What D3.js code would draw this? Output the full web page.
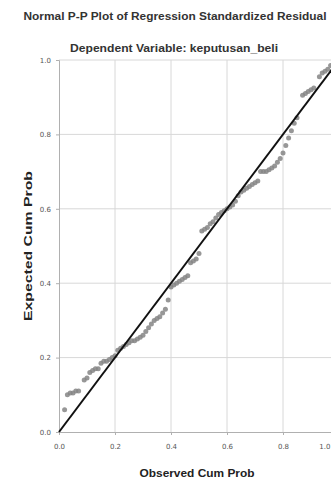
<!DOCTYPE html>
<html><head><meta charset="utf-8">
<script src="https://cdn.jsdelivr.net/npm/d3@7"></script>
<style>body{margin:0;background:#fff;}svg{display:block;}</style>
</head><body>
<svg id="c" width="331" height="482"></svg>
<script>
const observed = [0.02,0.03,0.04,0.05,0.06,0.07,0.09,0.10,0.11,0.12,0.13,0.14,0.15,0.16,0.17,0.18,0.19,0.20,0.21,0.22,0.23,0.24,0.25,0.26,0.27,0.28,0.29,0.30,0.31,0.32,0.33,0.34,0.35,0.36,0.37,0.38,0.39,0.40,0.41,0.42,0.43,0.44,0.45,0.46,0.47,0.48,0.49,0.50,0.51,0.52,0.53,0.54,0.55,0.56,0.57,0.58,0.59,0.60,0.61,0.62,0.63,0.64,0.65,0.66,0.67,0.68,0.69,0.70,0.71,0.72,0.73,0.74,0.75,0.76,0.77,0.78,0.79,0.80,0.81,0.82,0.83,0.84,0.85,0.87,0.88,0.89,0.90,0.91,0.93,0.94,0.95,0.96,0.97];
const expected = [0.06,0.10,0.105,0.105,0.11,0.11,0.14,0.145,0.16,0.165,0.17,0.17,0.185,0.19,0.19,0.195,0.20,0.205,0.22,0.225,0.23,0.235,0.24,0.245,0.245,0.25,0.255,0.26,0.27,0.28,0.29,0.30,0.305,0.31,0.32,0.33,0.355,0.39,0.395,0.40,0.405,0.41,0.415,0.42,0.455,0.46,0.465,0.48,0.54,0.545,0.55,0.56,0.565,0.575,0.585,0.59,0.595,0.60,0.605,0.61,0.62,0.635,0.645,0.65,0.655,0.66,0.665,0.67,0.675,0.70,0.70,0.70,0.705,0.71,0.715,0.725,0.735,0.75,0.77,0.79,0.81,0.83,0.845,0.905,0.91,0.915,0.92,0.925,0.955,0.965,0.97,0.975,0.985];
const tickValues = [0.0,0.2,0.4,0.6,0.8,1.0];
const tickLabels = ["0.0","0.2","0.4","0.6","0.8","1.0"];
const titleText = "Normal P-P Plot of Regression Standardized Residual";
const subtitleText = "Dependent Variable: keputusan_beli";
const xLabel = "Observed Cum Prob";
const yLabel = "Expected Cum Prob";

const svg = d3.select("#c");
const x = d3.scaleLinear().domain([0,1]).range([59,339]);
const y = d3.scaleLinear().domain([0,1]).range([432,60]);

// gridlines
svg.append("g").selectAll("line.v").data(tickValues.slice(1)).join("line")
  .attr("x1",d=>x(d)).attr("x2",d=>x(d)).attr("y1",y(1)).attr("y2",y(0))
  .attr("stroke","#d8d8d8").attr("stroke-width",1);
svg.append("g").selectAll("line.h").data(tickValues.slice(1)).join("line")
  .attr("x1",x(0)).attr("x2",331).attr("y1",d=>y(d)).attr("y2",d=>y(d))
  .attr("stroke","#d8d8d8").attr("stroke-width",1);

// axes
const xAxis = d3.axisBottom(x).tickValues(tickValues).tickFormat((d,i)=>tickLabels[i]).tickSize(3).tickPadding(9);
const yAxis = d3.axisLeft(y).tickValues(tickValues).tickFormat((d,i)=>tickLabels[i]).tickSize(3).tickPadding(5);
const gx = svg.append("g").attr("transform","translate(0,432)").call(xAxis);
const gy = svg.append("g").attr("transform","translate(59,0)").call(yAxis);
[gx,gy].forEach(g=>{
  g.select(".domain").attr("stroke","#b0b0b0");
  g.selectAll(".tick line").attr("stroke","#b0b0b0");
  g.selectAll(".tick text").attr("fill","#555").attr("font-size","7px").attr("font-family","Liberation Sans Narrow, DejaVu Sans");
});
// keep the last x tick label inside the window
gx.selectAll(".tick text").filter(d=>x(d)>325).attr("text-anchor","end").attr("x",331-x(1)-1);

// points
svg.append("g").selectAll("circle").data(observed.map((o,i)=>[o,expected[i]])).join("circle")
  .attr("cx",d=>x(d[0])).attr("cy",d=>y(d[1])).attr("r",2.5)
  .attr("fill","#858585").attr("fill-opacity",0.85);

// reference line
svg.append("line").attr("x1",x(0)).attr("y1",y(0)).attr("x2",x(1)).attr("y2",y(1))
  .attr("stroke","#111").attr("stroke-width",2);

// texts
const font = "Liberation Sans Narrow, Liberation Sans, sans-serif";
svg.append("text").attr("x",175).attr("y",20).attr("text-anchor","middle")
  .attr("font-family",font).attr("font-size","11px").attr("font-weight","bold").attr("fill","#333")
  .attr("textLength",303).attr("lengthAdjust","spacingAndGlyphs").text(titleText);
svg.append("text").attr("x",174).attr("y",52).attr("text-anchor","middle")
  .attr("font-family",font).attr("font-size","11px").attr("font-weight","bold").attr("fill","#333")
  .attr("textLength",208).attr("lengthAdjust","spacingAndGlyphs").text(subtitleText);
svg.append("text").attr("x",197).attr("y",477).attr("text-anchor","middle")
  .attr("font-family",font).attr("font-size","11px").attr("font-weight","bold").attr("fill","#222")
  .attr("textLength",115).attr("lengthAdjust","spacingAndGlyphs").text(xLabel);
svg.append("text").attr("transform","translate(32,246) rotate(-90)").attr("text-anchor","middle")
  .attr("font-family",font).attr("font-size","11px").attr("font-weight","bold").attr("fill","#222")
  .attr("textLength",150).attr("lengthAdjust","spacingAndGlyphs").text(yLabel);
</script>
</body></html>
